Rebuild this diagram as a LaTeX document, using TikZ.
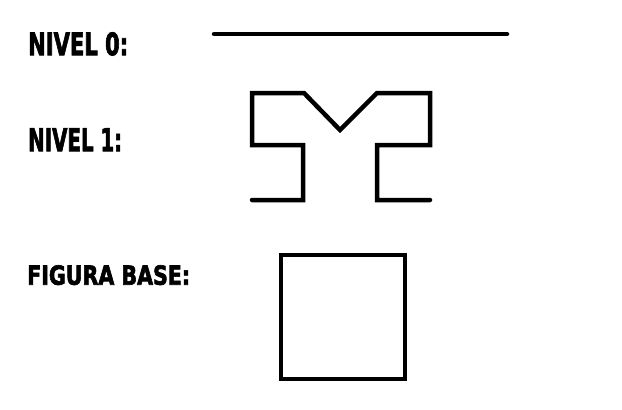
\documentclass[tikz,border=0pt]{standalone}
\usepackage{fontspec}
\usepackage{graphicx}
\newfontfamily\labelfont{DejaVu Sans Condensed}[BoldFont={DejaVu Sans Condensed Bold}, BoldFeatures={FakeBold=2.5}]
\newcommand{\levellabel}[3]{\resizebox{#1pt}{#2pt}{\labelfont\bfseries #3}}

\begin{document}
\begin{tikzpicture}[x=1pt, y=-1pt,
  stroke/.style={line width=4.5pt, line cap=round, line join=miter},
  lbl/.style={anchor=north west, inner sep=0pt}]
  \useasboundingbox[fill=white] (0,0) rectangle (622,410);
  % labels
  \node[lbl] (nivel0) at (28,32) {\levellabel{100}{23}{NIVEL 0:}};
  \node[lbl] (nivel1) at (28,128) {\levellabel{94}{23}{NIVEL 1:}};
  \node[lbl] (base) at (27,265) {\levellabel{163}{19.5}{FIGURA BASE:}};
  % level 0: a single segment
  \draw[stroke] (214,34) -- (507,34);
  % level 1
  \draw[stroke] (252,200) -- (303,200) -- (303,145) -- (252,145) -- (252,93)
    -- (304,93) -- (340,130) -- (377,93) -- (430,93) -- (430,145)
    -- (377,145) -- (377,200) -- (430,200);
  % base figure: a square
  \draw[line width=4.5pt] (281,255) rectangle (405,379);
\end{tikzpicture}
\end{document}
